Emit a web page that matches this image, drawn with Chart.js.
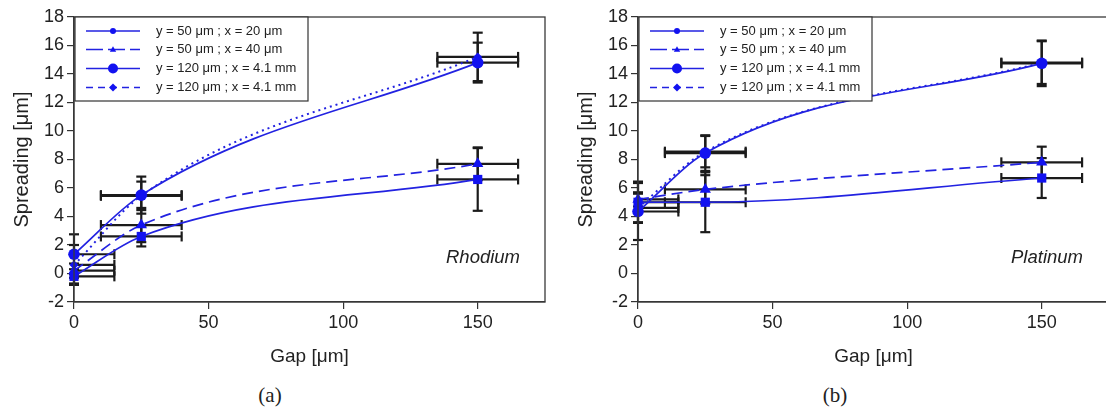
<!DOCTYPE html>
<html>
<head>
<meta charset="utf-8">
<script src="https://cdn.jsdelivr.net/npm/chart.js@4.4.1/dist/chart.umd.min.js"></script>
<style>
  html, body { margin: 0; padding: 0; background: #fff; width: 1106px; height: 414px; overflow: hidden; position: relative; }
  .panel { position: absolute; top: 0; width: 560px; height: 380px; }
  #wrapA { left: 0; }
  #wrapB { left: 564px; }
  .cap { position: absolute; top: 383px; font-family: "Liberation Serif", "DejaVu Serif", serif; font-size: 21px; color: #222; transform: translateX(-50%); }
</style>
</head>
<body>
<div class="panel" id="wrapA"><canvas id="rhodium" width="560" height="380"></canvas></div>
<div class="panel" id="wrapB"><canvas id="platinum" width="560" height="380"></canvas></div>
<div class="cap" style="left:270px">(a)</div>
<div class="cap" style="left:835px">(b)</div>
<script>
// Gap positions and their horizontal uncertainty
const gapValues = [0, 25, 150];
const gapError = [15, 15, 15];
const xTicks = [0, 50, 100, 150];
const yTickStep = 2;
const seriesLabels = [
  'y = 50 \u03bcm ; x = 20 \u03bcm',
  'y = 50 \u03bcm ; x = 40 \u03bcm',
  'y = 120 \u03bcm ; x = 4.1 mm',
  'y = 120 \u03bcm ; x = 4.1 mm'
];

// Rhodium spreading [µm] and errors
const rhY50x20 = [-0.2, 2.6, 6.6];
const rhY50x20Err = [0.5, 0.7, 2.2];
const rhY50x40 = [0.2, 3.4, 7.7];
const rhY50x40Err = [0.5, 1.2, 1.15];
const rhY120a = [1.35, 5.5, 14.8];
const rhY120aErr = [1.4, 1.3, 1.4];
const rhY120b = [0.6, 5.45, 15.2];
const rhY120bErr = [1.4, 1.0, 1.7];

// Platinum spreading [µm] and errors
const ptY50x20 = [5.0, 5.0, 6.7];
const ptY50x20Err = [1.45, 2.1, 1.4];
const ptY50x40 = [5.2, 5.9, 7.8];
const ptY50x40Err = [0.5, 1.0, 1.1];
const ptY120a = [4.35, 8.45, 14.75];
const ptY120aErr = [2.0, 1.25, 1.6];
const ptY120b = [4.6, 8.55, 14.8];
const ptY120bErr = [1.0, 1.1, 1.5];

const BLUE_LINE = 'rgb(34,34,225)';
const BLUE_MARK = 'rgb(18,18,240)';
const INK = '#222';

// Appearance of each series in the plot and in the legend
const seriesStyles = [
  { dash: [], legendDash: [], point: 'rect', radius: 6.5, legendPoint: 'circle', legendRadius: 3 },
  { dash: [11, 6], legendDash: [17, 5], point: 'triangle', radius: 6.5, legendPoint: 'triangle', legendRadius: 3.2 },
  { dash: [], legendDash: [], point: 'circle', radius: 5.8, legendPoint: 'circle', legendRadius: 5 },
  { dash: [2, 4], legendDash: [7, 5], point: 'rectRot', radius: 4.5, legendPoint: 'rectRot', legendRadius: 4 }
];

Chart.defaults.font.family = '"Liberation Sans", Arial, sans-serif';
Chart.defaults.color = INK;

function buildDatasets(values, errors) {
  return values.map((vals, s) => ({
    label: seriesLabels[s],
    data: gapValues.map((g, i) => ({ x: g, y: vals[i] })),
    yErr: errors[s],
    xErr: gapError,
    borderColor: BLUE_LINE,
    backgroundColor: BLUE_MARK,
    borderWidth: s === 3 ? 2 : 1.7,
    borderDash: seriesStyles[s].dash,
    pointStyle: seriesStyles[s].point,
    pointRadius: seriesStyles[s].radius,
    pointBorderWidth: 0,
    pointBackgroundColor: BLUE_MARK,
    cubicInterpolationMode: 'monotone',
    clip: 10
  }));
}

// Black error bars in both directions, under the markers
const errorBars = {
  id: 'errorBars',
  beforeDatasetsDraw(chart) {
    const { ctx, scales: { x, y } } = chart;
    ctx.save();
    ctx.strokeStyle = '#1b1b1b';
    ctx.lineWidth = 2.2;
    const seg = (x1, y1, x2, y2) => { ctx.beginPath(); ctx.moveTo(x1, y1); ctx.lineTo(x2, y2); ctx.stroke(); };
    chart.data.datasets.forEach(ds => {
      ds.data.forEach((p, i) => {
        const px = x.getPixelForValue(p.x);
        const py = y.getPixelForValue(p.y);
        const yt = y.getPixelForValue(p.y + ds.yErr[i]);
        const yb = y.getPixelForValue(Math.max(p.y - ds.yErr[i], y.min));
        seg(px, yt, px, yb);
        seg(px - 5, yt, px + 5, yt);
        if (p.y - ds.yErr[i] >= y.min) seg(px - 5, yb, px + 5, yb);
        const lo = p.x - ds.xErr[i], hi = p.x + ds.xErr[i];
        const xl = x.getPixelForValue(Math.max(lo, x.min));
        const xr = x.getPixelForValue(hi);
        seg(xl, py, xr, py);
        seg(xr, py - 5, xr, py + 5);
        if (lo >= x.min) seg(xl, py - 5, xl, py + 5);
      });
    });
    ctx.restore();
  }
};

// Closed frame round the plot area
const frame = {
  id: 'frame',
  afterDraw(chart) {
    const { ctx, chartArea: a } = chart;
    ctx.save();
    ctx.strokeStyle = '#3a3a3a';
    ctx.lineWidth = 1.3;
    ctx.strokeRect(a.left, a.top, a.right - a.left, a.bottom - a.top);
    ctx.restore();
  }
};

// Boxed legend in the upper-left corner plus the metal name
const boxLegend = {
  id: 'boxLegend',
  afterDraw(chart, args, opts) {
    const { ctx, chartArea: a } = chart;
    ctx.save();
    const bx = a.left + 1, by = a.top, bw = 233, bh = 84;
    ctx.fillStyle = '#fff';
    ctx.fillRect(bx, by, bw, bh);
    ctx.strokeStyle = '#333';
    ctx.lineWidth = 1.2;
    ctx.strokeRect(bx, by, bw, bh);
    const rows = [14, 32.5, 51.5, 70.5];
    chart.data.datasets.forEach((ds, s) => {
      const st = seriesStyles[s];
      const yy = by + rows[s];
      const mx = bx + 38;
      ctx.strokeStyle = BLUE_LINE;
      ctx.lineWidth = 1.6;
      ctx.setLineDash(st.legendDash);
      ctx.beginPath();
      ctx.moveTo(bx + 11, yy);
      ctx.lineTo(bx + 65, yy);
      ctx.stroke();
      ctx.setLineDash([]);
      ctx.fillStyle = BLUE_MARK;
      ctx.beginPath();
      const r = st.legendRadius;
      if (st.legendPoint === 'circle') {
        ctx.arc(mx, yy, r, 0, Math.PI * 2);
      } else if (st.legendPoint === 'triangle') {
        ctx.moveTo(mx, yy - r); ctx.lineTo(mx + r, yy + r * 0.7); ctx.lineTo(mx - r, yy + r * 0.7); ctx.closePath();
      } else {
        ctx.moveTo(mx, yy - r); ctx.lineTo(mx + r, yy); ctx.lineTo(mx, yy + r); ctx.lineTo(mx - r, yy); ctx.closePath();
      }
      ctx.fill();
      ctx.fillStyle = INK;
      ctx.font = '13px "Liberation Sans", Arial, sans-serif';
      ctx.textBaseline = 'middle';
      ctx.textAlign = 'left';
      ctx.fillText(ds.label, bx + 81, yy);
    });
    ctx.font = 'italic 18.5px "Liberation Sans", Arial, sans-serif';
    ctx.fillStyle = INK;
    ctx.textAlign = 'center';
    ctx.textBaseline = 'middle';
    ctx.fillText(opts.text, a.right - 62, a.bottom - 44);
    ctx.restore();
  }
};

function makeChart(id, datasets, metal) {
  return new Chart(document.getElementById(id), {
    type: 'line',
    data: { datasets },
    plugins: [errorBars, frame, boxLegend],
    options: {
      responsive: false,
      animation: false,
      devicePixelRatio: 1,
      layout: { padding: { left: 0, right: 15, top: 17, bottom: 0 } },
      plugins: {
        legend: { display: false },
        tooltip: { enabled: false },
        boxLegend: { text: metal }
      },
      scales: {
        x: {
          type: 'linear',
          min: 0,
          max: 175,
          afterBuildTicks: sc => { sc.ticks = xTicks.map(v => ({ value: v })); },
          afterFit: sc => { sc.height = 78; },
          grid: { drawOnChartArea: false, drawTicks: true, tickLength: 7, color: '#333', lineWidth: 1.2 },
          border: { display: true, color: '#333', width: 1.3 },
          ticks: { font: { size: 18 }, color: INK, padding: 3, maxRotation: 0 },
          title: { display: true, text: 'Gap [\u03bcm]', font: { size: 19 }, color: INK, padding: { top: 0, bottom: 12 } }
        },
        y: {
          min: -2,
          max: 18,
          afterFit: sc => { sc.width = 74; },
          grid: { drawOnChartArea: false, drawTicks: true, tickLength: 7, color: '#333', lineWidth: 1.2 },
          border: { display: true, color: '#333', width: 1.3 },
          ticks: { stepSize: yTickStep, font: { size: 18 }, color: INK, padding: 3 },
          title: { display: true, text: 'Spreading [\u03bcm]', font: { size: 20 }, color: INK, padding: { top: 10, bottom: 0 } }
        }
      }
    }
  });
}

makeChart('rhodium',
  buildDatasets([rhY50x20, rhY50x40, rhY120a, rhY120b], [rhY50x20Err, rhY50x40Err, rhY120aErr, rhY120bErr]),
  'Rhodium');
makeChart('platinum',
  buildDatasets([ptY50x20, ptY50x40, ptY120a, ptY120b], [ptY50x20Err, ptY50x40Err, ptY120aErr, ptY120bErr]),
  'Platinum');
</script>
</body>
</html>
